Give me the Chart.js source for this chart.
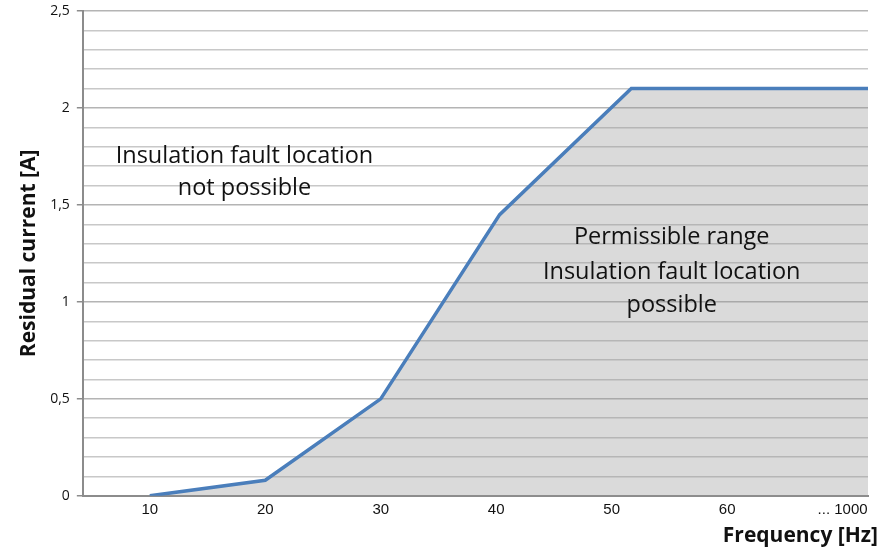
<!DOCTYPE html>
<html>
<head>
<meta charset="utf-8">
<script src="https://cdn.jsdelivr.net/npm/chart.js@4"></script>
<style>
  html, body { margin: 0; padding: 0; background: #fff; }
  #wrap { width: 894px; height: 553px; }
</style>
</head>
<body>
<div id="wrap"><canvas id="residual_plot"></canvas></div>
<script>
'use strict';

// limit curve: frequency [Hz] vs. residual current [A]
const frequency = [10, 20, 30, 40.3, 51.7, 72.2];
const residualCurrent = [0, 0.08, 0.5, 1.45, 2.1, 2.1];

// x ticks (the last one stands for the range up to 1000 Hz)
const freqTicks = [10, 20, 30, 40, 50, 60, 70];
const freqTickLabels = ['10', '20', '30', '40', '50', '60', '... 1000'];

// region captions, anchored in data coordinates
const regionLabels = [
    {x: 18.2, y: [1.75, 1.585], lines: ['Insulation fault location', 'not possible']},
    {x: 55.2, y: [1.335, 1.155, 0.98], lines: ['Permissible range', 'Insulation fault location', 'possible']}
];

const fmtComma = v => String(v).replace('.', ',');
const isMajor = v => Math.round(v * 10) % 5 === 0;

const regionText = {
    id: 'regionText',
    afterDatasetsDraw(chart) {
        const ctx = chart.ctx;
        const xs = chart.scales.x, ys = chart.scales.y;
        ctx.save();
        ctx.fillStyle = '#111';
        ctx.font = '23.5px "Open Sans"';
        ctx.textAlign = 'center';
        ctx.textBaseline = 'middle';
        regionLabels.forEach(r => {
            r.lines.forEach((t, i) => {
                ctx.fillText(t, xs.getPixelForValue(r.x), ys.getPixelForValue(r.y[i]));
            });
        });
        ctx.restore();
    }
};

const residual_plot = new Chart('residual_plot', {
    type: 'line',
    data: {
        datasets: [{
            label: 'Residual current',
            data: frequency.map((f, i) => ({x: f, y: residualCurrent[i]})),
            borderColor: '#4a7ebb',
            borderWidth: 3.5,
            backgroundColor: 'rgba(150,150,150,0.35)',
            fill: 'origin',
            pointRadius: 0,
            tension: 0
        }]
    },
    options: {
        responsive: true,
        maintainAspectRatio: false,
        animation: false,
        layout: {padding: {left: 16, right: 16, top: 0, bottom: 0}},
        plugins: {
            legend: {display: false},
            tooltip: {enabled: false},
            title: {
                display: true,
                position: 'bottom',
                align: 'end',
                text: 'Frequency [Hz]',
                color: '#111',
                font: {family: 'Open Sans', size: 21, weight: 'bold'},
                padding: {top: 0, bottom: 4}
            }
        },
        scales: {
            x: {
                type: 'linear',
                min: 4.2,
                max: 72.2,
                afterBuildTicks: s => { s.ticks = freqTicks.map(v => ({value: v})); },
                ticks: {
                    color: '#111',
                    font: {family: 'Liberation Sans', size: 15},
                    padding: 5,
                    maxRotation: 0,
                    callback: (v) => freqTickLabels[freqTicks.indexOf(v)]
                },
                grid: {display: false, drawTicks: false},
                border: {display: true, color: '#8c8c8c', width: 2}
            },
            y: {
                min: 0,
                max: 2.5,
                afterBuildTicks: s => {
                    const t = [];
                    for (let i = 0; i <= 25; i++) t.push({value: i / 10});
                    s.ticks = t;
                },
                afterFit: s => { s.paddingTop = 11; },
                ticks: {
                    color: '#111',
                    font: {family: 'Open Sans', size: 14},
                    padding: 7,
                    autoSkip: false,
                    callback: (v) => isMajor(v) ? fmtComma(v) : ''
                },
                grid: {
                    color: (c) => (c.tick && isMajor(c.tick.value)) ? '#b4b4b4' : '#c8c8c8',
                    lineWidth: 1.5,
                    tickLength: 6,
                    tickColor: (c) => (c.tick && isMajor(c.tick.value)) ? '#8c8c8c' : 'rgba(0,0,0,0)'
                },
                border: {display: true, color: '#8c8c8c', width: 2},
                title: {
                    display: true,
                    text: 'Residual current [A]',
                    color: '#111',
                    font: {family: 'Open Sans', size: 21, weight: 'bold'},
                    padding: {top: 0, bottom: 2}
                }
            },
            // empty spacer on the right so the x title can run past the plot area
            spacer: {
                type: 'linear',
                position: 'right',
                display: true,
                ticks: {display: false},
                grid: {display: false},
                border: {display: false},
                afterFit: s => { s.width = 10; }
            }
        }
    },
    plugins: [regionText]
});
</script>
</body>
</html>
